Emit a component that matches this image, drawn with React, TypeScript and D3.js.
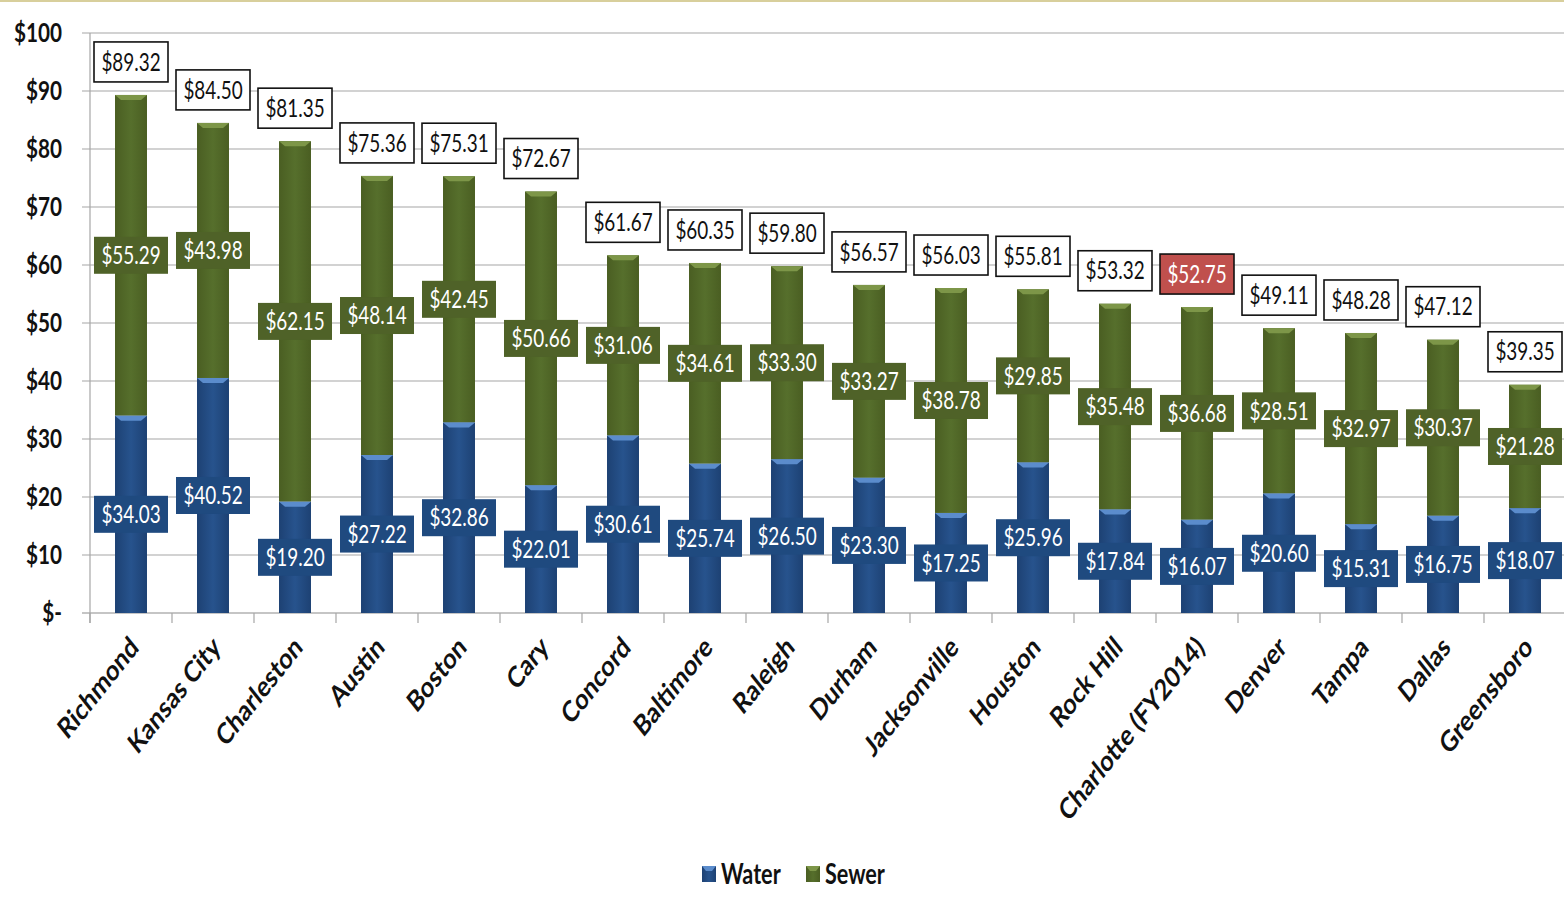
import { useEffect, useRef } from 'react';
import * as d3 from 'd3';

// chart data
const cities = [
  'Richmond', 'Kansas City', 'Charleston', 'Austin', 'Boston', 'Cary', 'Concord',
  'Baltimore', 'Raleigh', 'Durham', 'Jacksonville', 'Houston', 'Rock Hill',
  'Charlotte (FY2014)', 'Denver', 'Tampa', 'Dallas', 'Greensboro',
];
const water = [34.03, 40.52, 19.2, 27.22, 32.86, 22.01, 30.61, 25.74, 26.5, 23.3, 17.25, 25.96, 17.84, 16.07, 20.6, 15.31, 16.75, 18.07];
const sewer = [55.29, 43.98, 62.15, 48.14, 42.45, 50.66, 31.06, 34.61, 33.3, 33.27, 38.78, 29.85, 35.48, 36.68, 28.51, 32.97, 30.37, 21.28];
const totals = [89.32, 84.5, 81.35, 75.36, 75.31, 72.67, 61.67, 60.35, 59.8, 56.57, 56.03, 55.81, 53.32, 52.75, 49.11, 48.28, 47.12, 39.35];
const yTicks = [0, 10, 20, 30, 40, 50, 60, 70, 80, 90, 100];
const highlight = 'Charlotte (FY2014)';

const App = () => {
  const svgRef = useRef<SVGSVGElement | null>(null);

  useEffect(() => {
    const width = 1564;
    const height = 898;
    const marginLeft = 90;
    const plotRight = 1566;
    const plotTop = 33;
    const plotBottom = 613;
    const font = 'Lato, "Open Sans", sans-serif';
    // the reference text looks narrow and tall (Calibri, slightly stretched)
    const squash = 'scale(0.9,1.15)';

    const svg = d3.select(svgRef.current)
      .attr('width', width)
      .attr('height', height)
      .style('display', 'block')
      .style('position', 'absolute')
      .style('left', 0)
      .style('top', 0)
      .style('font-family', font);
    svg.selectAll('*').remove();

    const x = d3.scaleBand()
      .domain(cities)
      .range([marginLeft, plotRight])
      .paddingInner(0.61)
      .paddingOuter(0.305);

    const y = d3.scaleLinear()
      .domain([0, 100])
      .range([plotBottom, plotTop]);

    // gradients for bars (rounded look) and legend swatches
    const defs = svg.append('defs');
    const grad = (id: string, edge: string, mid: string) => {
      const g = defs.append('linearGradient').attr('id', id).attr('x1', 0).attr('x2', 1).attr('y1', 0).attr('y2', 0);
      g.append('stop').attr('offset', '0%').attr('stop-color', edge);
      g.append('stop').attr('offset', '50%').attr('stop-color', mid);
      g.append('stop').attr('offset', '100%').attr('stop-color', edge);
    };
    grad('gWater', '#1d4173', '#27538d');
    grad('gSewer', '#4a5e22', '#566f2c');

    // top border line
    svg.append('rect').attr('x', 0).attr('y', 0).attr('width', width).attr('height', 2).attr('fill', '#d8cf9c');

    // gridlines
    svg.append('g')
      .selectAll('line')
      .data(yTicks)
      .join('line')
      .attr('x1', marginLeft - 8)
      .attr('x2', width)
      .attr('y1', d => y(d))
      .attr('y2', d => y(d))
      .attr('stroke', d => (d === 0 ? '#8c8c8c' : '#a6a6a6'))
      .attr('stroke-width', 1.2);

    // y axis line
    svg.append('line')
      .attr('x1', marginLeft).attr('x2', marginLeft)
      .attr('y1', plotTop).attr('y2', plotBottom + 10)
      .attr('stroke', '#a6a6a6').attr('stroke-width', 1.2);

    // y tick labels
    svg.append('g')
      .selectAll('text')
      .data(yTicks)
      .join('text')
      .attr('transform', d => `translate(62,${y(d)}) ${squash}`)
      .attr('dy', '0.35em')
      .attr('text-anchor', 'end')
      .attr('font-size', 23)
      .attr('font-weight', 'bold')
      .attr('fill', '#111')
      .text(d => (d === 0 ? '$-' : `$${d}`));

    // x tick marks at band boundaries
    const step = x.step();
    svg.append('g')
      .selectAll('line')
      .data(d3.range(cities.length + 1))
      .join('line')
      .attr('x1', i => marginLeft + i * step)
      .attr('x2', i => marginLeft + i * step)
      .attr('y1', plotBottom)
      .attr('y2', plotBottom + 10)
      .attr('stroke', '#a6a6a6')
      .attr('stroke-width', 1.2);

    const bw = x.bandwidth();
    const rows = cities.map((c, i) => ({ city: c, water: water[i], sewer: sewer[i], total: totals[i] }));

    // stacked segments
    const segs = rows.flatMap(r => [
      { city: r.city, y0: 0, y1: r.water, kind: 'water' },
      { city: r.city, y0: r.water, y1: r.water + r.sewer, kind: 'sewer' },
    ]);

    const bars = svg.append('g');
    bars.selectAll('rect')
      .data(segs)
      .join('rect')
      .attr('x', d => x(d.city)!)
      .attr('y', d => y(d.y1))
      .attr('width', bw)
      .attr('height', d => y(d.y0) - y(d.y1))
      .attr('fill', d => (d.kind === 'water' ? 'url(#gWater)' : 'url(#gSewer)'));

    // bevel highlight at the top of each segment
    bars.selectAll('path')
      .data(segs)
      .join('path')
      .attr('d', d => {
        const x0 = x(d.city)!;
        const top = y(d.y1);
        return `M${x0},${top} L${x0 + bw},${top} L${x0 + bw - 6},${top + 5} L${x0 + 6},${top + 5} Z`;
      })
      .attr('fill', d => (d.kind === 'water' ? '#5b8ccc' : '#7d9648'));

    // segment labels
    const boxW = 74;
    const boxH = 37;
    const labels = svg.append('g');
    const segLab = labels.selectAll('g.seg')
      .data(segs)
      .join('g')
      .attr('class', 'seg')
      .attr('transform', d => `translate(${x(d.city)! + bw / 2},${(y(d.y0) + y(d.y1)) / 2})`);
    segLab.append('rect')
      .attr('x', -boxW / 2)
      .attr('y', -boxH / 2)
      .attr('width', boxW)
      .attr('height', boxH)
      .attr('fill', d => (d.kind === 'water' ? '#1f4a7f' : '#4f6228'));
    segLab.append('text')
      .attr('transform', squash)
      .attr('text-anchor', 'middle')
      .attr('dy', '0.36em')
      .attr('font-size', 21)
      .attr('fill', '#fff')
      .text(d => `$${(d.y1 - d.y0).toFixed(2)}`);

    // total labels above bars
    const totLab = labels.selectAll('g.tot')
      .data(rows)
      .join('g')
      .attr('class', 'tot')
      .attr('transform', d => `translate(${x(d.city)! + bw / 2},${y(d.total) - 33})`);
    totLab.append('rect')
      .attr('x', -boxW / 2)
      .attr('y', -20)
      .attr('width', boxW)
      .attr('height', 40)
      .attr('fill', d => (d.city === highlight ? '#c0504d' : '#fff'))
      .attr('stroke', '#111')
      .attr('stroke-width', 1.6);
    totLab.append('text')
      .attr('transform', squash)
      .attr('text-anchor', 'middle')
      .attr('dy', '0.36em')
      .attr('font-size', 21)
      .attr('fill', d => (d.city === highlight ? '#fff' : '#111'))
      .text(d => `$${d.total.toFixed(2)}`);

    // rotated category labels (stretched vertically like the reference)
    svg.append('g')
      .selectAll('text')
      .data(cities)
      .join('text')
      .attr('transform', d => `translate(${x(d)! + bw / 2 + 9},${plotBottom + 36}) scale(1,1.26) rotate(-45)`)
      .attr('text-anchor', 'end')
      .attr('font-size', 23)
      .attr('font-weight', 'bold')
      .attr('fill', '#111')
      .text(d => d);

    // legend
    const legend = svg.append('g').attr('transform', 'translate(702,874)');
    const items = [
      { name: 'Water', fill: 'url(#gWater)', hi: '#5b8ccc' },
      { name: 'Sewer', fill: 'url(#gSewer)', hi: '#7d9648' },
    ];
    const li = legend.selectAll('g')
      .data(items)
      .join('g')
      .attr('transform', (_d, i) => `translate(${i * 104},0)`);
    li.append('rect').attr('x', 0).attr('y', -8).attr('width', 14).attr('height', 16).attr('fill', d => d.fill);
    li.append('path').attr('d', 'M0,-8 L14,-8 L10,-3 L4,-3 Z').attr('fill', d => d.hi);
    li.append('text')
      .attr('transform', `translate(19,0) ${squash}`)
      .attr('dy', '0.36em')
      .attr('font-size', 24)
      .attr('font-weight', 'bold')
      .attr('fill', '#111')
      .text(d => d.name);
  }, []);

  return (
    <div>
      <svg ref={svgRef}></svg>
    </div>
  );
};

export default App;
